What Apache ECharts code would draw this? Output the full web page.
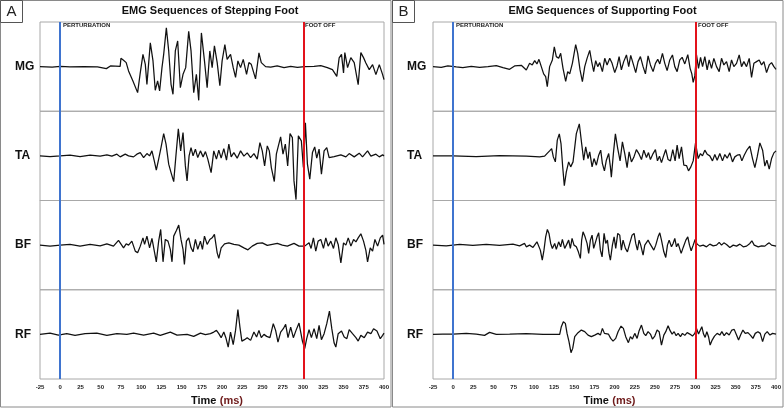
<!DOCTYPE html>
<html>
<head>
<meta charset="utf-8">
<script src="https://cdn.jsdelivr.net/npm/echarts@6/dist/echarts.min.js"></script>
<style>
  html, body { margin: 0; padding: 0; background: #fff; }
  #chart { width: 784px; height: 408px; }
</style>
</head>
<body>
<div id="chart"></div>
<script>
// 通道名称
const channels = ['MG', 'TA', 'BF', 'RF']
const timeTicks = [-25, 400, 25]
// 事件时刻 (ms): 扰动, 离地
const perturbation = [0, 0]
const footOff = [301, 300]

// 踏步脚 EMG，[时间ms, 幅值]
const stepMG = [[-25,0],[-10,-0.5],[0,0.3],[12,-0.3],[29,0],[46,-0.3],[57,-2],[62,0.7],[74,0.3],
  [75,8.3],[78.2,6.3],[81.5,4],[84.4,-4.3],[89.8,-14.3],[95.6,-26],[98.9,-6],[102.2,12.3],[105.1,2.3],[107.1,-17.7],
  [111.3,23.7],[114.6,5.7],[117.4,-23.7],[120.3,-14.3],[122.8,-24.3],[125.7,-1],[127.8,12.3],[131.1,38.7],[134,15.7],
  [136.9,-17.7],[139.3,-27.7],[142.2,15.7],[145.1,25.7],[148.4,-21],[151.7,-7.7],[155,-1],[158.7,35.3],[161.6,15.7],
  [164.9,-26],[168.2,-7.7],[171.1,-33.7],[174.4,33.7],[178.2,5.7],[181.5,-21],[184.8,15.7],[187.7,-1],[190.5,20.7],
  [193.9,4],[197.2,-19],[200,5.7],[203.4,22],[206.2,7.3],[210.4,12.3],[213.7,-1],[216.6,-10.7],[219.5,5.7],[222.8,-1],
  [226.1,7.3],[230.2,-7.7],[233.1,4],[236,2.3],[241.3,-12.3],[245.5,13.7],[248.4,4],[253.7,0],[260,-0.5],[268,0.7],
  [276.5,-1],[284.7,0.3],[293,-0.7],[302,0],[313.6,0.3],[321.9,1],[330,-1],[336.3,-3],[338.4,-1],[341.7,-9.7],
  [344.6,8.7],[347.5,12.3],[350,-6.3],[351.6,14],[355,-1],[359,9],[363.2,4],[368.1,-18],[371.4,14],[374.7,9],
  [377.6,3.7],[381.8,-3],[385.9,2],[390,-8],[394.2,2],[398.3,-8],[400,-13]]
const stepTA = [[-25,0],[-12.6,-0.7],[0,0],[12.1,0.7],[24.5,-0.7],[36.9,0.7],[49.3,-0.3],[57.6,1],[63.8,-0.3],
  [70,1.7],[74.1,-1],[80.3,1.7],[84.4,0],[90.6,-1],[94.7,1.7],[98.9,3.3],[103,-1.7],[107.1,2.3],[110.4,0],[113.3,5],
  [116.2,-5],[118.7,-14.3],[121.6,-3.3],[124.5,8.3],[127.8,22.3],[130.7,11.7],[134,-8.3],[136.9,-16.7],[140.2,-25.7],
  [143.1,1.7],[145.9,27],[148.8,5],[151.7,23.3],[154.6,-10],[156.7,-25],[159.2,0],[161.6,8.3],[164.1,0],[167,6.7],
  [169.9,-1.7],[173.2,5],[176.5,-1],[179.4,4.3],[182.3,-3.3],[186.4,-16.7],[189.7,5],[193,-3.3],[195.9,5.7],
  [198.8,-2.3],[202.1,7.3],[205.4,-4.3],[208.3,11.7],[211.2,-1],[214.5,3.3],[218.6,-2.3],[222.8,5],[226.9,-0.3],
  [231,3],[235.2,-1.7],[239.3,2.3],[243.4,-3.3],[246.7,13.3],[249.6,5],[252.5,-10],[255.8,10],[258.3,5],[260.8,-11.7],
  [264.5,-25.7],[267,1.7],[269.5,10],[272.3,19],[275.2,1.7],[278.1,11.7],[281,-10],[283.9,22.3],[286.8,18.3],
  [288.8,-25],[291.3,-43.7],[294.2,20],[297.9,15],[300.4,-11.7],[302.9,33],[305.4,-8.3],[308.3,-23.3],[311.6,3.3],
  [314.4,9],[316.9,-2.3],[319.8,6.7],[322.7,-18.3],[326,5],[329.3,8.3],[332.2,-1.7],[338.4,-0.7],[346.7,1],[352.9,-1],
  [357,2.3],[363.2,-1],[369.4,2.7],[373.5,-1],[379.7,5],[383.8,-0.3],[390,1.7],[394.2,-1],[398.3,1],[400,0]]
const stepBF = [[-25,0],[-12.6,-1],[0,0],[12.1,0.7],[24.5,-1],[36.9,0.7],[49.3,-0.7],[57.6,1.3],[65.8,-1],[68,-2.7],
  [72,4.7],[78.2,-2.7],[81.5,1.3],[84.4,0],[88.5,4],[92.7,-6],[95.6,-7.7],[98.9,-1],[102.2,7.3],[104.2,0.7],[107.1,9],
  [110.4,-2.7],[113.3,6.7],[118.7,-16.7],[121.6,4],[124.1,15.7],[127,-16.7],[129.8,5.7],[133.1,4],[136,-4.3],
  [138.1,-16.7],[140.2,9],[143.5,14.7],[146.4,20],[149.2,5.7],[151.7,-4.3],[153.4,-19.3],[155.9,4],[158.7,7.3],
  [161.6,-2.7],[164.1,-6.7],[167,5.7],[169.9,-4.3],[173.2,4],[175.7,-4.3],[178.2,9],[181.5,0.7],[184.8,5.7],[187.7,7.3],
  [190.5,10.7],[193.9,-7.7],[195.9,-13.3],[198.8,-2.7],[203,1.3],[208.3,2.3],[214.5,0.7],[220.7,0],[226.9,-2.7],
  [231.9,-4.7],[237.2,-1],[243.4,1.7],[249.6,2.3],[255.8,-0.3],[262,0.7],[268.2,1.7],[274.4,0],[280.6,-1],[288.8,1.7],
  [295,-1],[302,-1],[307.4,2.3],[309.9,-3.3],[312.8,7.3],[315.7,-6],[318.6,4],[321.9,5.7],[325.2,-3.3],[328.1,7.3],
  [331,-1],[334.3,4],[337.6,-3.3],[340.5,7.3],[343.4,0.7],[346.7,-17.7],[350,2.3],[352.9,0],[355.8,7.3],[359.1,-1],
  [362.4,5.7],[365.3,3.3],[368.1,7.3],[371.4,11.3],[374.7,4],[377.6,-5.3],[379.7,-16.7],[383,-2.7],[385.9,-6],
  [388.8,5.7],[392.1,-1],[395.4,7.3],[398.3,10],[400,0.7]]
const stepRF = [[-25,0],[-12.6,1.3],[-2.3,-0.7],[8,0.7],[18.3,-1],[30.7,0.7],[45.2,1.3],[57.6,-1],[70,0.7],[82.3,0],
  [90.6,1.3],[103,-0.7],[115.4,1.3],[123.6,-1],[136,2.3],[144.3,-0.7],[156.7,0],[164.9,-2],[173.2,1.3],[179.4,-0.3],
  [185.6,0.7],[189.7,2.3],[193,4],[195.9,0.7],[198.8,-3.3],[202.1,2.3],[204.6,-3.3],[207.5,-12.7],[210.4,2.3],
  [213.7,-10.3],[216.6,4],[219.5,24.7],[222,7.3],[224.4,-6.7],[227.7,-5.3],[231,-3.3],[235.2,-6],[239.3,2.3],
  [242.6,-2.7],[245.5,4],[248.4,-3.3],[251.7,0],[255,-2],[259.1,-3.3],[263.2,10.7],[266.1,4],[269,-7.7],[272.3,2.3],
  [275.6,5.7],[278.5,10],[281.4,-3.3],[284.7,7.3],[288,-3.3],[291.3,4],[295,11.3],[299.2,-6.7],[302,-14.3],[304.5,-4.3],
  [307.4,4.7],[310.3,-3.3],[313.6,5.7],[316.9,-4.3],[319.8,9],[322.7,-5.3],[326,0.7],[329.3,10.7],[332.6,23.3],
  [335.5,5.7],[338.4,-8.7],[340.5,-12.7],[343.4,0.7],[347.5,3.3],[350.8,-2.7],[354.1,-4.3],[357,4.7],[361.1,0.7],
  [365.3,-3.3],[368.1,-6.7],[371.4,-1],[375.6,-3.3],[379.7,2.3],[383.8,0.7],[387.1,5.7],[391.3,3.3],[395.4,-4.3],
  [398.3,-1],[400,1.3]]

// 支撑脚 EMG
const suppMG = [[-25,0],[-14.8,-0.7],[-6.6,0.7],[3.8,-0.3],[12,-1],[22.4,0.3],[32.7,-0.7],[43.1,0],[53.4,1],
  [61.7,-1],[69.9,-2.7],[76.1,0.7],[84.4,1.3],[90.6,-3.3],[94.7,3.3],[98,1.7],[101,6],[103.8,2.7],[106.3,7.3],[109.2,0],
  [112.1,-7.3],[114.6,-10],[116.6,-20],[119.5,0],[122.9,6.7],[125.3,19.7],[127.8,10],[130.7,8.3],[133.2,13.3],
  [136.1,-1.7],[139.4,-14.7],[141.9,-5],[144.4,-7.3],[147.7,3.3],[151.8,22],[154.3,13.3],[157.2,-3.3],[160.1,-15],
  [163,0],[165.9,8.3],[169.2,16.3],[171.6,5],[174.1,-5],[176.6,6],[179.1,0],[181.6,4],[184.9,-5],[187.8,8.3],
  [190.7,1.7],[194,8.3],[196.9,3.3],[200.2,-6],[203.1,0.7],[205.6,10],[208.4,-3.3],[211.3,5],[214.7,11.7],[217.5,0],
  [220,11.3],[222.9,3.3],[226.2,-6],[229.1,5],[232,10],[235.3,0],[238.2,-7.3],[241.5,10.7],[244.4,1.7],[247.7,-5],
  [250.6,3.3],[253.5,7.3],[256,2.7],[259.3,13.3],[262.2,3.3],[265.1,-4],[268.4,6.7],[271.7,11.7],[274.6,0],[277.5,-5],
  [280.8,6.7],[283.7,9.3],[287,2.7],[290.7,12],[293.6,-1.7],[295.7,-7.3],[297.4,-15.7],[299.4,-9.3],[301.5,11.7],
  [304,-1.7],[306.5,9.3],[309,0],[311.8,10],[314.7,-3.3],[317.2,6.7],[320.1,-1.7],[323,8.3],[326.3,0],[329.6,-5],
  [332.5,8.3],[335.4,1.7],[338.7,5],[342,-5],[344.9,6.7],[347.8,0],[351.1,3.3],[354.4,11.7],[357.3,0],[360.2,5],
  [363.5,0],[366.8,8.3],[369.7,-10.7],[372.6,3.3],[375.9,5],[379.2,6.7],[382.1,1.7],[385,5],[388.3,-6],[391.6,1.7],
  [394.5,4],[397.4,0],[400,-2.7]]
const suppTA = [[-25,0],[0,0],[28.6,-0.7],[57.5,0.3],[90.6,-0.3],[107.1,-1],[113.3,-0.3],[116.2,2.3],[119.5,5],
  [122,7.3],[124.1,-1],[126.6,-6],[129,15.7],[131.5,22],[133.6,12.3],[135.7,-11],[137.7,-29.7],[140.2,-16],[143.1,-6],
  [145.6,-11],[148.5,-6],[152.6,22.3],[156.3,32],[159.2,12.3],[161.7,-4.3],[164.2,9],[167.1,-2.7],[169.2,4],
  [172.1,-11],[174.5,-2.7],[177.4,-9.3],[180.3,0.7],[182.8,5.7],[184.9,-7.7],[187.4,-15],[189.8,-4.3],[192.7,2.3],
  [194.8,-11],[196,-21.3],[198.5,2.3],[201,22],[203.9,7.3],[206.8,-5],[209.7,14],[212.6,2.3],[215.5,-11.7],[218,4],
  [220.9,-6],[223.7,-1.7],[227,6.3],[230.4,1.7],[233.3,-3.7],[236.2,5.7],[239.5,-1.7],[242,3.3],[244.4,-3.7],
  [247.7,2.3],[250.6,6.3],[253.1,-5],[255.6,-0.3],[258.1,-6.7],[261,0.7],[263.4,6.3],[266.3,-3.7],[269.2,-5],
  [272.1,6.3],[275,-5],[277.5,10.7],[280,-2.7],[282.9,9],[285.8,-9.3],[289.1,-9.7],[291.6,-15],[294.5,-11],[297.4,-5],
  [300.3,13],[303.6,-2.7],[306.4,2.3],[308.9,0],[311.8,5.7],[314.7,1.7],[318,0],[321.3,-5],[324.2,1.3],[327.1,-4.3],
  [330.4,2.3],[333.7,-5],[336.6,1.3],[339.5,-2.3],[342.8,3],[346.1,-6],[349,-1],[351.9,0.7],[355.2,1.3],[357.7,-5],
  [360.6,0.7],[364.3,6.3],[367.6,9.7],[370.9,-2.7],[373.8,-11.7],[376.7,-1],[380,13],[383.4,5.7],[386.2,-10.3],
  [388.7,-4.3],[391.6,-13.3],[394.5,-2.7],[397.4,3],[400,5]]
const suppBF = [[-25,0],[-8.6,-0.7],[8,0.7],[24.4,-0.3],[41,0.7],[57.5,-0.3],[74,1],[82.3,-0.7],[88.5,1.7],
  [90.6,-1.7],[94.7,0],[98.9,-2.3],[100.9,-1],[103.8,3.3],[105.9,5],[108,-5],[110.4,-15],[112.5,-5],[114.6,8.3],
  [116.7,15.7],[118.7,11.7],[120.8,1.7],[122.9,-3.3],[125.8,1.7],[127.8,-4.3],[130.7,3.3],[133.2,-1.7],[135.3,5.7],
  [138.2,-3.3],[140.2,0],[143.1,5],[145.2,-3.3],[147.3,6.7],[149.7,0],[152.6,-1.7],[155.1,-6.7],[157.6,-13.3],
  [159.2,5],[160.9,13.3],[163.4,8.3],[165.9,1.7],[167.9,-8.3],[170,5],[172.1,10],[174.1,-3.3],[176.2,-5],[178.3,8.3],
  [180.3,12.3],[182.4,-5],[184.5,-11.7],[187,11.7],[189,1.7],[191.1,5],[193.1,-8.3],[194.8,-15],[197.3,0],[199.4,8.3],
  [201.4,-3.3],[203.9,11.7],[206.4,10],[208.4,-5],[210.5,5],[213.4,-3.3],[215.9,-6.7],[218.8,1.7],[221.7,10],
  [224.2,11.7],[226.2,1.7],[228.3,-5],[230.4,5],[232.4,0],[235.3,-10],[237.4,0],[239.5,1.7],[241.5,5],[243.6,1.7],
  [245.7,3.3],[248.6,-5],[251,0],[253.9,8.3],[256,12.3],[258.1,5],[261,-6.7],[263.4,-12.3],[265.5,0],[267.6,5],
  [270.5,-1.7],[272.5,1.7],[274.6,6.7],[276.7,-1.7],[278.7,1.7],[282.5,-8.3],[285,-2.3],[288.3,5],[290.7,8.3],
  [292.8,0],[294.9,-5.7],[297.4,0],[299.8,5.7],[302.3,1],[305.6,-1],[309.8,0],[313.9,-1.7],[318,1],[322.2,-0.7],
  [326.3,0],[329.6,2.7],[332.5,0],[335.4,2.3],[338.7,0.7],[342.8,-2.3],[347,0],[351.1,-1],[355.2,1],[359.4,-1.7],
  [363.5,-1],[367.6,1.7],[370.1,4.3],[373,0],[378,-1.7],[382.1,-0.7],[386.2,-1],[389.1,1],[391.6,2.3],[394.5,0],
  [398.7,-0.7],[400,-1]]
const suppRF = [[-25,0],[-12.8,0.3],[-0.4,0.3],[16.2,1],[28.6,0.3],[38.9,-1],[45.1,2],[53.4,0],[70,0.3],[90.6,0.7],
  [111.3,0],[132,0],[134,7.7],[136.5,12.7],[139,11],[141.1,1],[143.5,-7.3],[146,-18.3],[148.1,-14],[150.6,-2.3],
  [154.7,1.7],[158.8,4.3],[163,2.7],[167.1,-0.7],[171.2,-2.3],[175.4,-0.7],[179.5,1],[182.4,-0.7],[184.9,6],[187.4,1],
  [189.8,2.7],[192.3,0.3],[195.2,-4],[198.1,-6.7],[201.4,-4],[204.3,2.7],[208,8.3],[210.9,6],[213.8,-2.3],[217.1,-8.3],
  [219.6,-2.3],[222.1,-4.7],[225,1],[227.9,-4],[230.4,3.7],[233.3,9.3],[236.2,1],[238.6,-1.3],[241.5,2.7],[244.4,0.3],
  [246.9,-4.7],[249.8,-1.7],[252.7,4.3],[255.2,2.7],[258.1,-10.7],[261,-0.7],[263.4,2.7],[266.3,8.7],[268.8,3.7],
  [271.3,0.3],[273.8,2.7],[276.3,-1.3],[278.7,1],[281.6,-2.3],[284.1,1],[287,-1],[289.9,1.7],[293.2,0.3],[296.5,-1.7],
  [299.4,1],[301.5,6],[304,0.3],[306,1.7],[308.1,7.7],[310.2,0.3],[312.2,-3],[314.3,2.7],[316.4,-2.3],[318.4,-10.7],
  [320.9,-5.7],[323.8,-1.7],[327.1,1],[330.4,-0.7],[332.9,2.7],[335.8,-1.3],[338.7,1.7],[342,-0.7],[345.3,4.3],
  [348.2,5],[351.1,-0.7],[353.6,-5.7],[356.1,-0.7],[359,4.3],[361.9,1],[365.2,1.7],[368.5,-1],[371.4,-4],[374.3,1],
  [377.6,2.7],[380.5,1],[383.4,-7.3],[386.2,0.3],[389.1,2.7],[392.5,-0.7],[395.8,1],[398.2,2.7],[400,0.3]]

const panels = [
  { title: 'EMG Sequences of Stepping Foot', tag: 'A', x: 0, left: 40, width: 344, traces: [stepMG, stepTA, stepBF, stepRF] },
  { title: 'EMG Sequences of Supporting Foot', tag: 'B', x: 392, left: 433, width: 343, traces: [suppMG, suppTA, suppBF, suppRF] }
]

const font = '"Liberation Sans", Arial, sans-serif'
const plotTop = 22
const rowH = 89.25
const half = rowH / 2

const grid = []
const xAxis = []
const yAxis = []
const series = []
const graphic = []

panels.forEach((p, pi) => {
  // 每个通道一行
  p.traces.forEach((data, ci) => {
    const idx = grid.length
    grid.push({ left: p.left, width: p.width, top: plotTop + ci * rowH, height: rowH, outerBoundsMode: 'none',
      show: true, borderColor: '#a8a8a8', borderWidth: 1 })
    xAxis.push({ gridIndex: idx, type: 'value', min: timeTicks[0], max: timeTicks[1], show: false })
    yAxis.push({ gridIndex: idx, type: 'value', min: -half, max: half, splitLine: { show: false },
      axisLine: { show: false }, axisTick: { show: false }, axisLabel: { show: false },
      name: channels[ci], nameLocation: 'middle', nameRotate: 0, nameGap: p.left - p.x - 15,
      nameTextStyle: { align: 'left', verticalAlign: 'middle', fontFamily: font, fontWeight: 'bold', fontSize: 12, color: '#111' } })
    series.push({ type: 'line', xAxisIndex: idx, yAxisIndex: idx, data: data, showSymbol: false,
      lineStyle: { color: '#111', width: 1.25 }, silent: true, animation: false })
  })
  // 时间轴 + 事件线
  const idx = grid.length
  grid.push({ left: p.left, width: p.width, top: plotTop, height: rowH * 4, outerBoundsMode: 'none' })
  xAxis.push({ gridIndex: idx, type: 'value', min: timeTicks[0], max: timeTicks[1], interval: timeTicks[2],
    splitLine: { show: false }, axisTick: { show: false },
    axisLine: { show: true, lineStyle: { color: '#a8a8a8' } },
    axisLabel: { fontFamily: font, fontWeight: 'bold', fontSize: 6, color: '#222', margin: 5 },
    name: '{t|Time} {m|(ms)}', nameLocation: 'middle', nameGap: 14,
    nameTextStyle: { padding: [0, 0, 0, 10], rich: {
      t: { fontFamily: font, fontWeight: 'bold', fontSize: 11, color: '#111' },
      m: { fontFamily: font, fontWeight: 'bold', fontSize: 11, color: '#6e1a1a' } } } })
  yAxis.push({ gridIndex: idx, type: 'value', min: -1, max: 1, show: false })
  series.push({ type: 'line', xAxisIndex: idx, yAxisIndex: idx, data: [], silent: true, animation: false,
    markLine: { symbol: 'none', silent: true, animation: false, label: { show: false },
      data: [
        { xAxis: perturbation[pi], lineStyle: { color: '#3f74cf', width: 2, type: 'solid' } },
        { xAxis: footOff[pi], lineStyle: { color: '#e3121b', width: 2, type: 'solid' } }
      ] } })

  // 外框、标签、标题
  graphic.push(
    { type: 'rect', shape: { x: p.x + 0.5, y: 0.5, width: 390.5, height: 406.5 }, style: { fill: 'none', stroke: '#8a8a8a', lineWidth: 1 } },
    { type: 'rect', shape: { x: p.x + 0.5, y: 0.5, width: 22, height: 22 }, style: { fill: '#fff', stroke: '#555', lineWidth: 1 } },
    { type: 'text', x: p.x + 11.5, y: 12, style: { text: p.tag, font: '15px ' + font, fill: '#222', textAlign: 'center', textVerticalAlign: 'middle' } },
    { type: 'text', x: p.left + p.width / 2 - 2, y: 11, style: { text: p.title, font: 'bold 11px ' + font, fill: '#111', textAlign: 'center', textVerticalAlign: 'middle' } },
    { type: 'text', x: p.left + 23, y: 25.5, style: { text: 'PERTURBATION', font: 'bold 6px ' + font, fill: '#222', textVerticalAlign: 'middle' } },
    { type: 'text', x: p.left + 265, y: 25.5, style: { text: 'FOOT OFF', font: 'bold 6px ' + font, fill: '#222', textVerticalAlign: 'middle' } }
  )
})

const chart = echarts.init(document.getElementById('chart'), null, { renderer: 'canvas' })
chart.setOption({
  backgroundColor: '#fff',
  animation: false,
  grid: grid,
  xAxis: xAxis,
  yAxis: yAxis,
  series: series,
  graphic: graphic
})
</script>
</body>
</html>
